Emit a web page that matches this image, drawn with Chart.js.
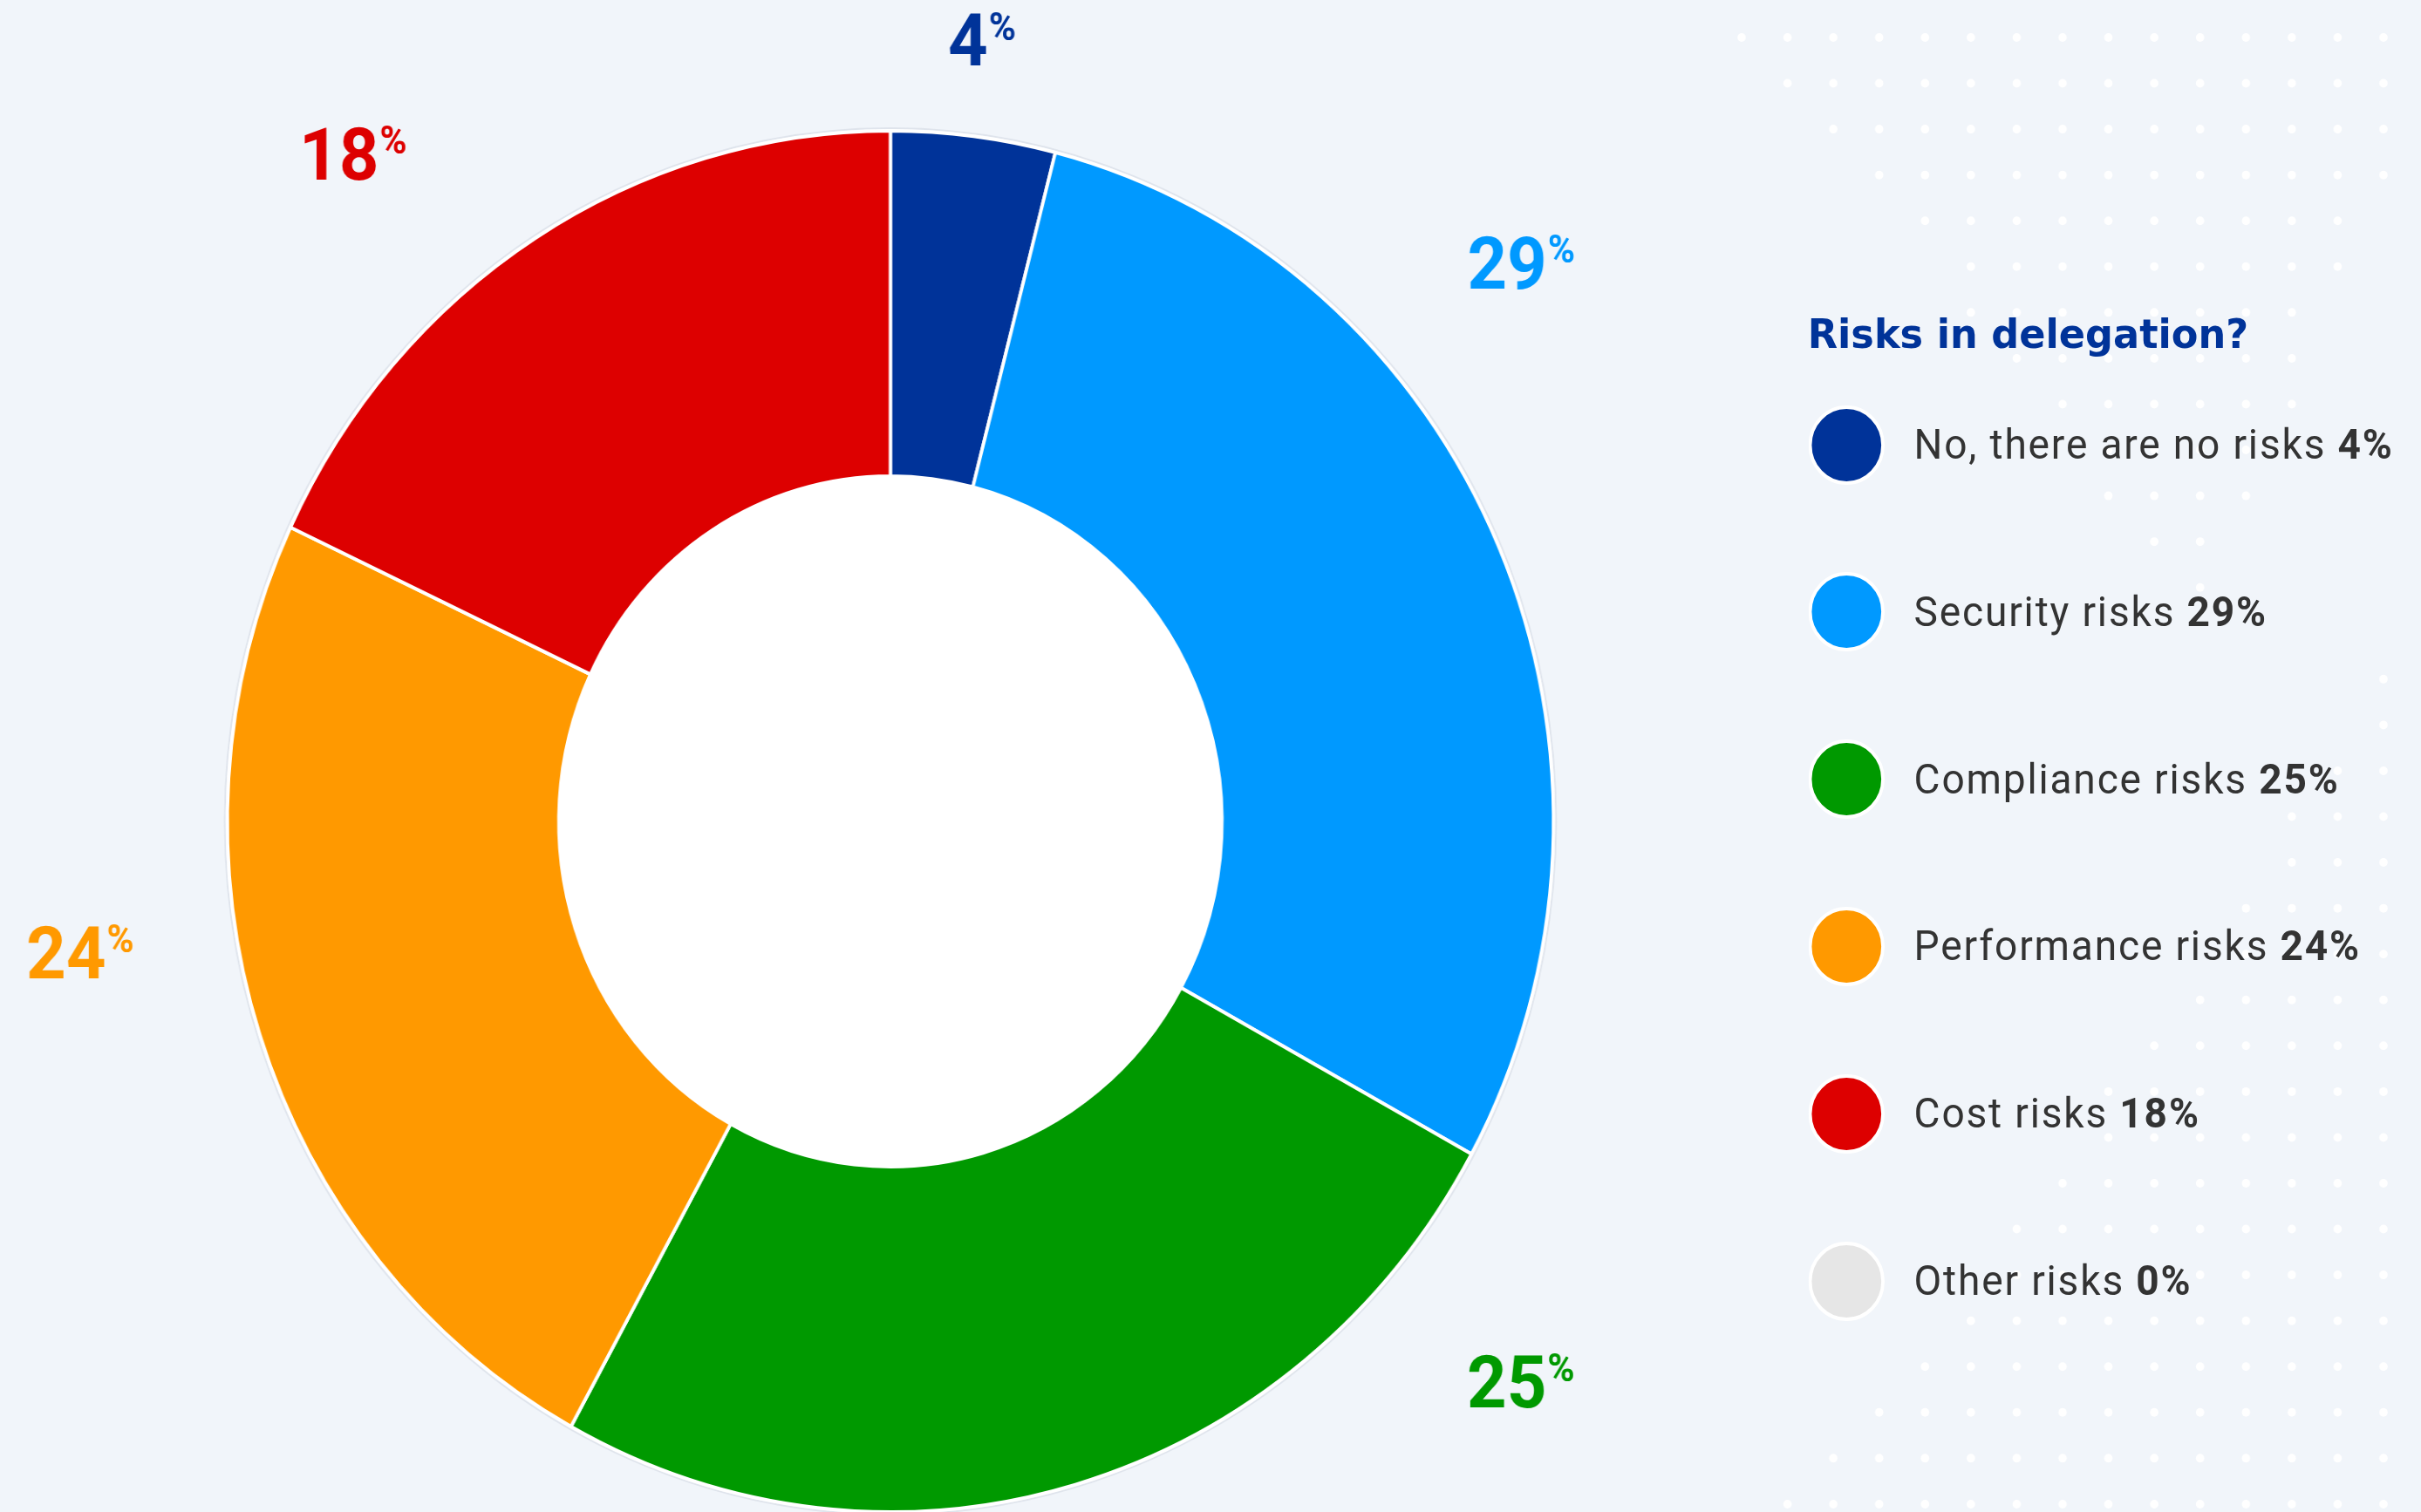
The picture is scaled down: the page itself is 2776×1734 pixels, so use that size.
<!DOCTYPE html>
<html>
<head>
<meta charset="utf-8">
<script src="https://cdn.jsdelivr.net/npm/chart.js@4.4.1/dist/chart.umd.min.js"></script>
<style>
  html, body { margin: 0; padding: 0; background: #f1f5fa; overflow: hidden; }
  #stage {
    position: absolute; left: 0; top: 0;
    width: 2892px; height: 1734px;
    transform: scaleX(0.96); transform-origin: 0 0;
  }
  #chartBox { position: absolute; left: 0; top: 0; width: 2892px; height: 1734px; }
  #title {
    position: absolute; left: 2159px; top: 359.5px;
    font: 700 46.5px/46.5px "DejaVu Sans", sans-serif; color: #003399; white-space: nowrap;
  }
  .item {
    position: absolute; left: 2160px; height: 91px;
    display: flex; align-items: center; white-space: nowrap;
  }
  .dot {
    width: 83px; height: 83px; border-radius: 50%;
    border: 4px solid #fff; flex: none;
  }
  .label {
    margin-left: 35px; font: 400 48px/48px Roboto, sans-serif; color: #333333;
    letter-spacing: 1.9px;
  }
  .label b { font-weight: 700; }
</style>
</head>
<body>
<div id="stage">
  <div id="chartBox"><canvas id="donut"></canvas></div>
  <div id="title">Risks in delegation?</div>
  <div id="legend"></div>
</div>
<script>
const categories = ['No, there are no risks', 'Security risks', 'Compliance risks', 'Performance risks', 'Cost risks', 'Other risks'];
const shares = [4, 29, 25, 24, 18, 0];
const sliceColors = ['#003399', '#0099ff', '#009900', '#ff9900', '#dd0000', '#e6e6e6'];

// where the big percentage labels sit around the ring (degrees clockwise from 12 o'clock, px from centre)
const labelAngle = [5.9, 49.0, 131.1, 261.3, 319.3, null];
const labelDist = [901, 976, 977, 996, 1010, 0];

// white dot pattern behind the legend: [row, firstCol, lastCol]
const dotRows = [
  [0, 0, 14], [1, 1, 14], [2, 2, 14], [3, 3, 14], [4, 4, 13], [5, 5, 13], [6, 5, 12],
  [7, 6, 12], [8, 7, 12], [9, 8, 11], [10, 8, 11], [11, 9, 10], [12, 10, 10],
  [14, 14, 14], [15, 14, 14], [16, 13, 14], [17, 12, 14], [18, 12, 14], [19, 11, 14],
  [20, 11, 14], [21, 10, 14], [22, 9, 14], [23, 8, 14], [24, 8, 14], [25, 7, 14],
  [26, 6, 14], [27, 6, 14], [28, 5, 14], [29, 4, 14], [30, 3, 14], [31, 2, 14], [32, 1, 14]
];

// legend
const legend = document.getElementById('legend');
categories.forEach((name, i) => {
  const row = document.createElement('div');
  row.className = 'item';
  row.style.top = (510 + 191.8 * i - 45.5) + 'px';
  const dot = document.createElement('div');
  dot.className = 'dot';
  dot.style.background = sliceColors[i];
  const txt = document.createElement('div');
  txt.className = 'label';
  txt.innerHTML = name + ' <b>' + shares[i] + '%</b>';
  row.appendChild(dot);
  row.appendChild(txt);
  legend.appendChild(row);
});

const backdrop = {
  id: 'backdrop',
  beforeDraw(chart) {
    const ctx = chart.ctx;
    ctx.save();
    ctx.fillStyle = '#ffffff';
    dotRows.forEach(([r, c0, c1]) => {
      const y = 43 + 52.56 * r;
      for (let c = c0; c <= c1; c++) {
        const x = (1997 + 52.57 * c) / 0.96;
        ctx.beginPath();
        ctx.arc(x, y, 5, 0, Math.PI * 2);
        ctx.fill();
      }
    });
    ctx.restore();
  },
  beforeDatasetsDraw(chart) {
    const arc = chart.getDatasetMeta(0).data[0];
    if (!arc) return;
    const ctx = chart.ctx;
    ctx.save();
    // faint rim around the ring
    ctx.strokeStyle = '#dfe4ec';
    ctx.lineWidth = 2;
    ctx.beginPath();
    ctx.arc(arc.x, arc.y, arc.outerRadius + 3, 0, Math.PI * 2);
    ctx.stroke();
    // white hole
    ctx.fillStyle = '#ffffff';
    ctx.beginPath();
    ctx.arc(arc.x, arc.y, arc.innerRadius, 0, Math.PI * 2);
    ctx.fill();
    ctx.restore();
  }
};

const percentLabels = {
  id: 'percentLabels',
  afterDatasetsDraw(chart) {
    const meta = chart.getDatasetMeta(0);
    const ctx = chart.ctx;
    const cx = meta.data[0].x, cy = meta.data[0].y;
    ctx.save();
    shares.forEach((v, i) => {
      if (!v || labelAngle[i] === null) return;
      const a = labelAngle[i] * Math.PI / 180;
      const x = cx + labelDist[i] * Math.sin(a);
      const y = cy - labelDist[i] * Math.cos(a);
      const numSize = 83, pctSize = 44;
      ctx.fillStyle = sliceColors[i];
      ctx.font = `700 ${numSize}px Roboto, sans-serif`;
      ctx.textAlign = 'center';
      ctx.textBaseline = 'alphabetic';
      const cap = numSize * 0.711;
      const base = y + cap / 2;
      ctx.fillText(String(v), x, base);
      const w = ctx.measureText(String(v)).width;
      ctx.font = `700 ${pctSize}px Roboto, sans-serif`;
      ctx.textAlign = 'left';
      ctx.fillText('%', x + w / 2 + 1, base - cap - 2 + pctSize * 0.711);
    });
    ctx.restore();
  }
};

new Chart(document.getElementById('donut'), {
  type: 'doughnut',
  data: {
    labels: categories,
    datasets: [{
      data: shares,
      backgroundColor: sliceColors,
      borderColor: '#ffffff',
      borderWidth: 4
    }]
  },
  options: {
    responsive: true,
    maintainAspectRatio: false,
    animation: false,
    radius: 792,
    cutout: '50%',
    layout: { padding: { left: 0, right: 765, top: 150, bottom: 0 } },
    plugins: {
      legend: { display: false },
      tooltip: { enabled: false }
    }
  },
  plugins: [backdrop, percentLabels]
});
</script>
</body>
</html>
